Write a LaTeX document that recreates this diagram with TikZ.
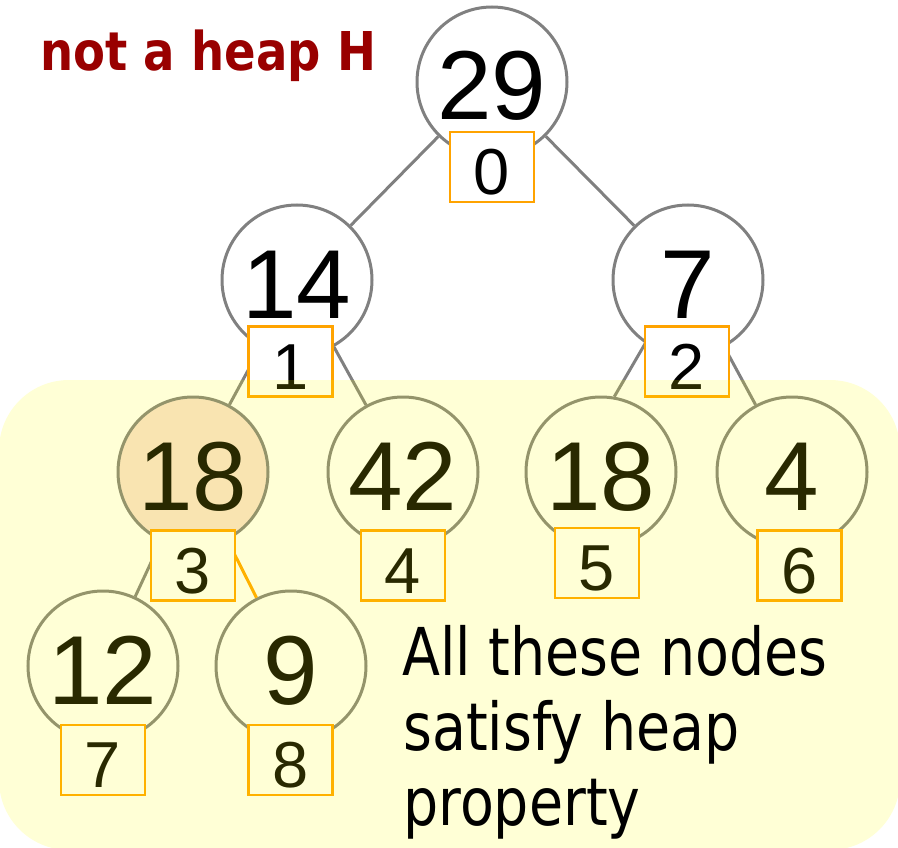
\documentclass[tikz,border=0pt]{standalone}
\usepackage{fontspec}
\setmainfont{Liberation Sans}
\newfontfamily\titlefont[FakeStretch=0.87]{DejaVu Sans}
\newfontfamily\notefont[FakeStretch=0.84]{DejaVu Sans}

\definecolor{linkgray}{RGB}{128,128,128}
\definecolor{boxorange}{RGB}{255,163,0}
\definecolor{titlered}{RGB}{153,0,0}
\definecolor{hotfill}{RGB}{248,223,212}
\definecolor{zone}{RGB}{255,255,0}

\tikzset{
  keynode/.style={circle, draw=linkgray, line width=3pt, fill=white,
    minimum size=150pt, inner sep=0pt,
    font=\fontsize{98}{98}\selectfont, text height=76pt, text depth=0pt},
  idxbox/.style={rectangle, draw=boxorange, line width=2.5pt, fill=white,
    minimum width=84pt, minimum height=70pt, inner sep=0pt,
    font=\fontsize{65}{65}\selectfont, text height=55pt, text depth=0pt},
  link/.style={draw=linkgray, line width=3pt},
  hotlink/.style={draw=boxorange, line width=3pt},
  notetext/.style={anchor=base west, inner sep=0pt,
    font=\notefont\fontsize{66}{66}\selectfont}
}

\begin{document}
\begin{tikzpicture}[x=1pt,y=-1pt]
\useasboundingbox (0,0) rectangle (898,848);

% key circles
\node[keynode] (c0) at (492,82)  {29};
\node[keynode] (c1) at (297,280) {14};
\node[keynode] (c2) at (688,280) {7};
\node[keynode, fill=hotfill] (c3) at (193,472) {18};
\node[keynode] (c4) at (403,472) {42};
\node[keynode] (c5) at (601,472) {18};
\node[keynode] (c6) at (792,472) {4};
\node[keynode] (c7) at (103,666) {12};
\node[keynode] (c8) at (291,666) {9};

% tree links between circle borders
\path[link] (c0) -- (c1);
\path[link] (c0) -- (c2);
\path[link] (c1) -- (c3);
\path[link] (c1) -- (c4);
\path[link] (c2.236) -- (c5.80);
\path[link] (c2) -- (c6);
\path[link] (c3) -- (c7);
\path[hotlink] (c3) -- (c8);

% array index boxes
\node[idxbox] (b0) at (492,167)     {0};
\node[idxbox] (b1) at (290.5,361.5) {1};
\node[idxbox] (b2) at (687,361.5)   {2};
\node[idxbox] (b3) at (193,565.5)   {3};
\node[idxbox] (b4) at (403,565.5)   {4};
\node[idxbox] (b5) at (597,563)     {5};
\node[idxbox] (b6) at (799.5,565.5) {6};
\node[idxbox] (b7) at (103,760)     {7};
\node[idxbox] (b8) at (290.5,760)   {8};

% translucent zone over the subtrees that are heaps
\fill[zone, fill opacity=0.16, rounded corners=70pt] (-1,380) rectangle (900,850);

\node[notetext] (note1) at (402,675) {All these nodes};
\node[notetext] (note2) at (403,750) {satisfy heap};
\node[notetext] (note3) at (403,825) {property};

\node[anchor=base west, inner sep=0pt, text=titlered,
  font=\titlefont\bfseries\fontsize{53.5}{54}\selectfont] (title) at (40,71) {not a heap H};
\end{tikzpicture}
\end{document}
